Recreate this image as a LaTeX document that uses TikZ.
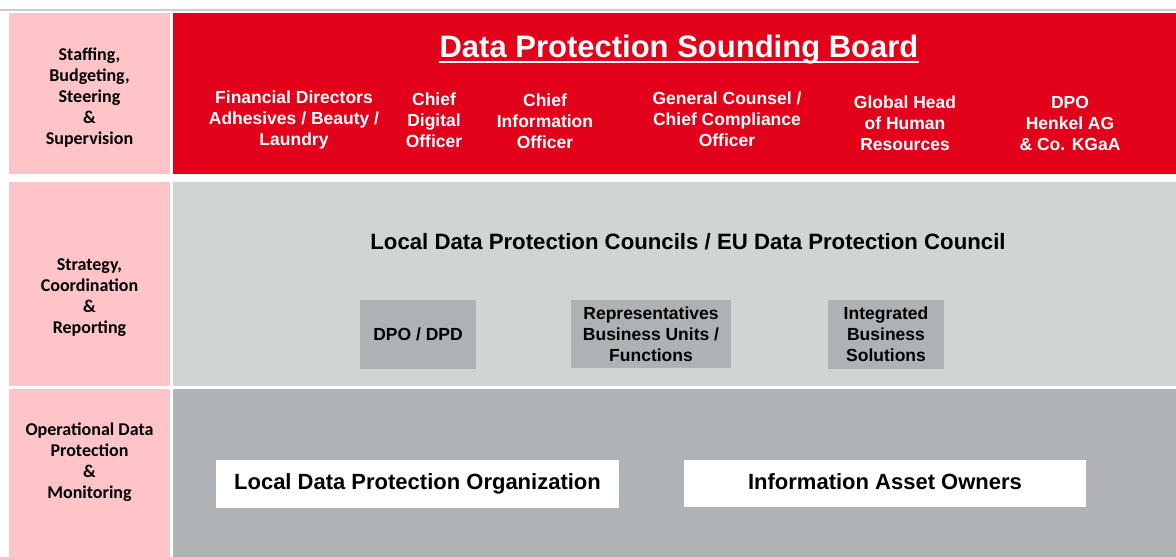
\documentclass[tikz,border=0pt]{standalone}
\usepackage{fontspec}
\setmainfont{Liberation Sans}
\newfontfamily\calibfont{Carlito}
\usetikzlibrary{positioning}

\definecolor{boardred}{HTML}{E2001A}
\definecolor{labelpink}{HTML}{FFC4C8}
\definecolor{councilgray}{HTML}{CFD4D4}
\definecolor{opsgray}{HTML}{AFB3B6}
\definecolor{unitgray}{HTML}{AEB2B5}

\begin{document}
\begin{tikzpicture}[x=1pt, y=-1pt,
  rowlabel/.style={align=center, inner sep=0pt, font=\calibfont\bfseries\fontsize{18}{21}\selectfont},
  member/.style={align=center, inner sep=0pt, text=white, font=\bfseries\fontsize{17.5}{21}\selectfont},
  unitbox/.style={fill=unitgray, align=center, inner sep=0pt, font=\bfseries\fontsize{17.5}{21}\selectfont},
  orgbox/.style={fill=white, inner sep=0pt, text height=16pt, text depth=4.5pt, font=\bfseries\fontsize{22}{24}\selectfont}]
\useasboundingbox (0,0) rectangle (1176,557);
\draw[black!20, line width=1.5pt] (0,10) -- (1176,10);

% Row backgrounds
\fill[labelpink] (9,13) rectangle (170,174);
\fill[boardred] (173,13) rectangle (1176,174);
\fill[labelpink] (9,182) rectangle (170,386);
\fill[councilgray] (173,182) rectangle (1176,386);
\fill[labelpink] (9,389) rectangle (170,557);
\fill[opsgray] (173,389) rectangle (1176,557);

% Row labels
\node[rowlabel] (supervision) at (89.5,98) {Staffing,\\Budgeting,\\Steering\\\&\\Supervision};
\node[rowlabel] (reporting) at (89.5,297.5) {Strategy,\\Coordination\\\&\\Reporting};
\node[rowlabel] (monitoring) at (89.5,462.5) {Operational Data\\Protection\\\&\\Monitoring};

% Sounding board
\node[anchor=base, inner sep=0pt, text=white, font=\bfseries\fontsize{31}{33}\selectfont] (board) at (679,57.5) {Data Protection Sounding Board};
\draw[white, line width=2pt] ([yshift=-4pt]board.base west) -- ([yshift=-4pt]board.base east);
\node[member] (findir) at (294,119.5) {Financial Directors\\Adhesives / Beauty /\\Laundry};
\node[member] (cdo) at (434,120) {Chief\\Digital\\Officer};
\node[member] (cio) at (545,121) {Chief\\Information\\Officer};
\node[member] (counsel) at (727,119) {General Counsel /\\Chief Compliance\\Officer};
\node[member] (hr) at (905,123) {Global Head\\of Human\\Resources};
\node[member] (dpo) at (1070,123) {DPO\\Henkel AG\\\& Co. KGaA};

% Councils
\node[inner sep=0pt, font=\bfseries\fontsize{22.2}{24}\selectfont] (council) at (688,242) {Local Data Protection Councils / EU Data Protection Council};
\node[unitbox, minimum width=116pt, minimum height=69pt] (dpd) at (418,334.5) {DPO / DPD};
\node[unitbox, minimum width=160pt, minimum height=68pt] (bu) at (651,334) {Representatives\\Business Units /\\Functions};
\node[unitbox, minimum width=116pt, minimum height=69pt] (ibs) at (886,334.5) {Integrated\\Business\\Solutions};

% Operations
\node[orgbox, minimum width=403pt, minimum height=48pt] (localorg) at (417.5,484) {Local Data Protection Organization};
\node[orgbox, minimum width=402pt, minimum height=47pt] (owners) at (885,483.5) {Information Asset Owners};
\end{tikzpicture}
\end{document}
